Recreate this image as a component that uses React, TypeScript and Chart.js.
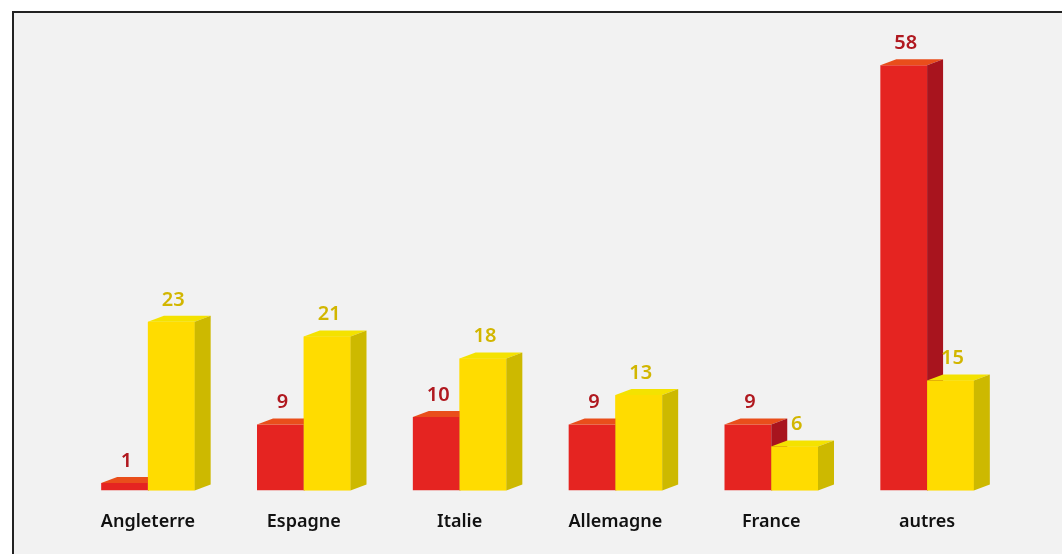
import React, { useEffect, useRef } from "react";
import { Chart, registerables } from "chart.js";

Chart.register(...registerables);

const categories = ["Angleterre", "Espagne", "Italie", "Allemagne", "France", "autres"];
const redValues = [1, 9, 10, 9, 9, 58];
const yellowValues = [23, 21, 18, 13, 6, 15];

const DX = 16;
const DY = 6;

const faces = [
  { front: "#e52421", top: "#e94e1b", side: "#a8141e", label: "#b0181f" },
  { front: "#ffdc00", top: "#f4e200", side: "#cdb900", label: "#d2b600" },
];

function drawBox(ctx: CanvasRenderingContext2D, el: any, f: any, front: boolean) {
  const w = el.width;
  const xl = el.x - w / 2;
  const xr = el.x + w / 2;
  const yt = Math.min(el.y, el.base);
  const yb = Math.max(el.y, el.base);
  if (front) {
    ctx.fillStyle = f.front;
    ctx.fillRect(xl, yt, w, yb - yt);
  }
  ctx.fillStyle = f.top;
  ctx.beginPath();
  ctx.moveTo(xl, yt);
  ctx.lineTo(xr, yt);
  ctx.lineTo(xr + DX, yt - DY);
  ctx.lineTo(xl + DX, yt - DY);
  ctx.closePath();
  ctx.fill();
  ctx.fillStyle = f.side;
  ctx.beginPath();
  ctx.moveTo(xr, yt);
  ctx.lineTo(xr + DX, yt - DY);
  ctx.lineTo(xr + DX, yb - DY);
  ctx.lineTo(xr, yb);
  ctx.closePath();
  ctx.fill();
}

const box3d = {
  id: "box3d",
  afterDatasetsDraw(chart: any) {
    const ctx = chart.ctx as CanvasRenderingContext2D;
    const m0 = chart.getDatasetMeta(0);
    const m1 = chart.getDatasetMeta(1);
    ctx.save();
    for (let i = 0; i < categories.length; i++) {
      drawBox(ctx, m0.data[i], faces[0], false);
      drawBox(ctx, m1.data[i], faces[1], true);
    }
    ctx.font = "600 20px 'Noto Sans'";
    ctx.textAlign = "center";
    ctx.textBaseline = "bottom";
    [m0, m1].forEach((m: any, d: number) => {
      const vals = d === 0 ? redValues : yellowValues;
      m.data.forEach((el: any, i: number) => {
        ctx.fillStyle = faces[d].label;
        ctx.fillText(String(vals[i]), el.x + 2, el.y - 12);
      });
    });
    ctx.restore();
  },
};

export default function App() {
  const ref = useRef<HTMLCanvasElement>(null);
  useEffect(() => {
    document.body.style.margin = "0";
    const chart = new Chart(ref.current!, {
      type: "bar",
      data: {
        labels: categories,
        datasets: [
          { label: "rouge", data: redValues, backgroundColor: faces[0].front, barPercentage: 1, categoryPercentage: 0.6 },
          { label: "jaune", data: yellowValues, backgroundColor: faces[1].front, barPercentage: 1, categoryPercentage: 0.6 },
        ],
      },
      options: {
        animation: false,
        responsive: false,
        devicePixelRatio: 1,
        layout: { padding: { left: 70, right: 57, top: 14, bottom: 0 } },
        plugins: { legend: { display: false }, tooltip: { enabled: false } },
        scales: {
          x: {
            grid: { display: false, drawTicks: false },
            border: { display: false },
            ticks: { color: "#111", font: { family: "'Noto Sans'", size: 18, weight: 600 }, padding: 21 },
          },
          y: { display: false, min: 0, max: 65 },
        },
      },
      plugins: [box3d],
    });
    return () => chart.destroy();
  }, []);
  return (
    <div style={{ position: "fixed", left: 0, top: 0, width: 1062, height: 554, background: "#fff", overflow: "hidden" }}>
      <div
        style={{
          position: "absolute",
          left: 12,
          top: 11,
          width: 1100,
          height: 600,
          background: "#f2f2f2",
          borderTop: "2px solid #222",
          borderLeft: "2px solid #222",
        }}
      />
      <canvas ref={ref} width={1062} height={554} style={{ position: "absolute", left: 0, top: 0, width: 1062, height: 554 }} />
    </div>
  );
}
